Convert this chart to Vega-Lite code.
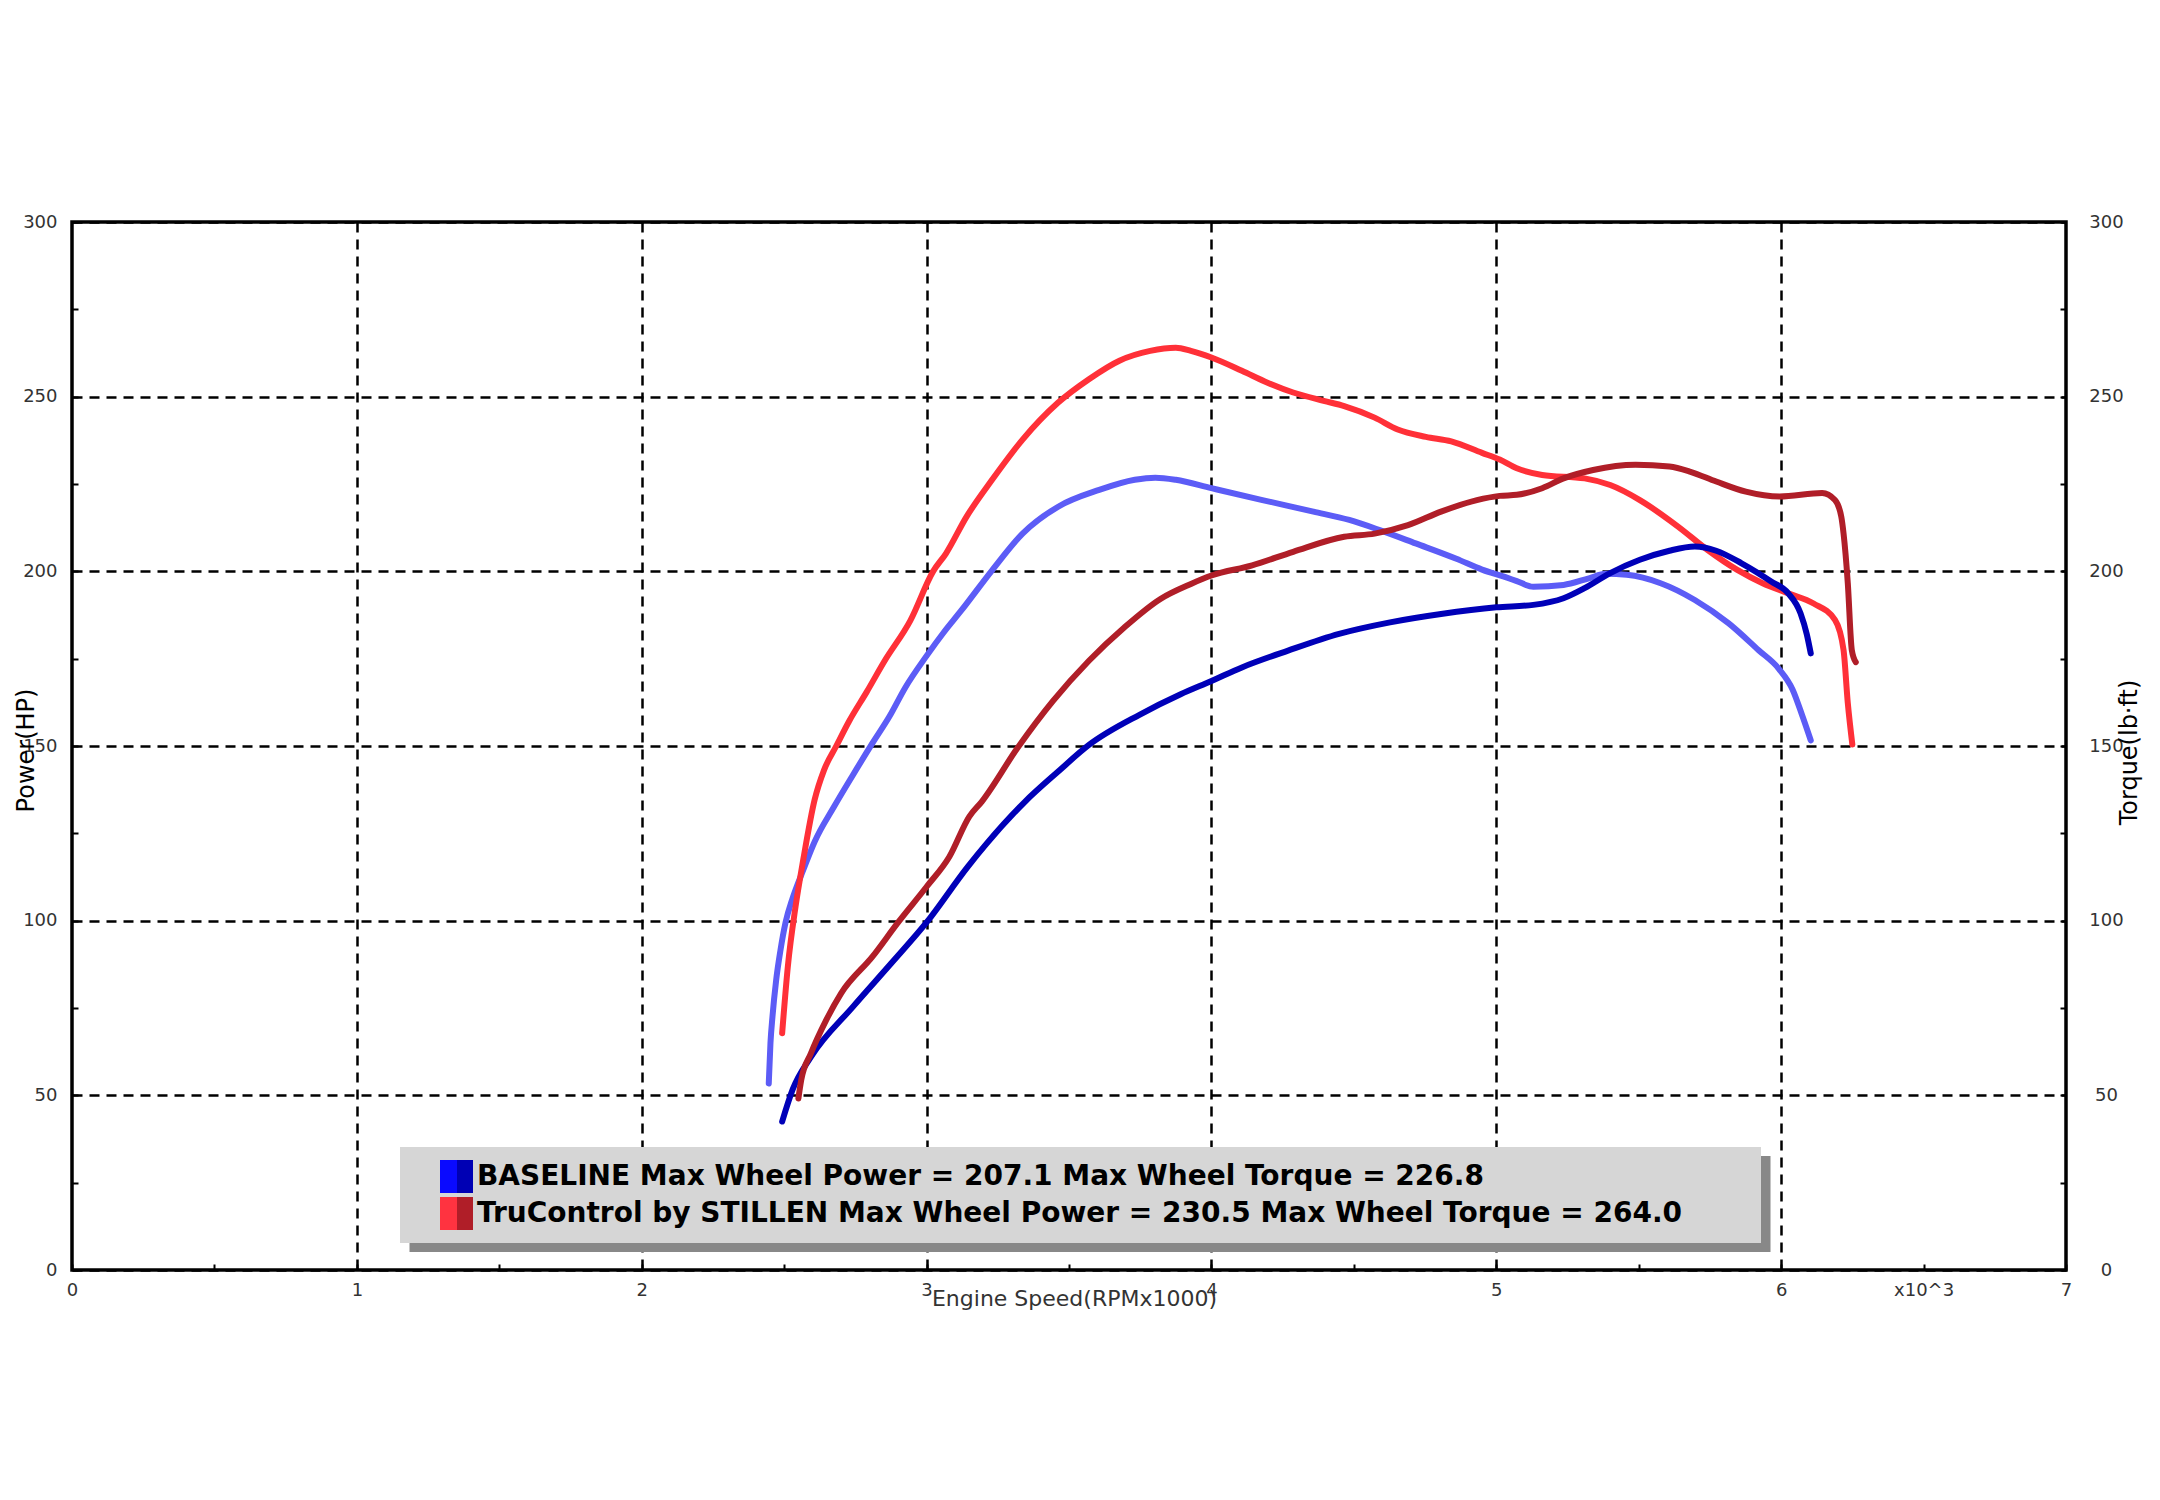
{
  "$schema": "https://vega.github.io/schema/vega-lite/v6.json",
  "description": "Dyno chart: wheel power and torque, BASELINE vs TruControl by STILLEN",
  "width": 1994,
  "height": 1048,
  "autosize": {"type": "none"},
  "padding": {"left": 72, "top": 222, "right": 94, "bottom": 230},
  "background": "white",
  "config": {
    "view": {"stroke": "black", "strokeWidth": 3.5},
    "axis": {"labelFont": "DejaVu Sans", "labelFontSize": 18, "labelColor": "#333", "titleFont": "DejaVu Sans", "titleFontWeight": "normal", "domain": false, "tickColor": "black", "tickWidth": 2, "tickSize": -6, "labelOverlap": false, "labelFlush": false, "labelBound": false, "gridColor": "black", "gridWidth": 2.5, "gridDash": [10, 7]}
  },
  "data": {
    "values": [
      {"rpm": 2.446, "v": 53.4, "run": "BASELINE", "series": "BASELINE Torque"},
      {"rpm": 2.452, "v": 65, "run": "BASELINE", "series": "BASELINE Torque"},
      {"rpm": 2.459, "v": 72.5, "run": "BASELINE", "series": "BASELINE Torque"},
      {"rpm": 2.472, "v": 83, "run": "BASELINE", "series": "BASELINE Torque"},
      {"rpm": 2.487, "v": 91.5, "run": "BASELINE", "series": "BASELINE Torque"},
      {"rpm": 2.505, "v": 99.5, "run": "BASELINE", "series": "BASELINE Torque"},
      {"rpm": 2.53, "v": 106.5, "run": "BASELINE", "series": "BASELINE Torque"},
      {"rpm": 2.567, "v": 114.5, "run": "BASELINE", "series": "BASELINE Torque"},
      {"rpm": 2.607, "v": 122.6, "run": "BASELINE", "series": "BASELINE Torque"},
      {"rpm": 2.675, "v": 132.6, "run": "BASELINE", "series": "BASELINE Torque"},
      {"rpm": 2.74, "v": 141.5, "run": "BASELINE", "series": "BASELINE Torque"},
      {"rpm": 2.81, "v": 150.8, "run": "BASELINE", "series": "BASELINE Torque"},
      {"rpm": 2.87, "v": 158.5, "run": "BASELINE", "series": "BASELINE Torque"},
      {"rpm": 2.925, "v": 166.7, "run": "BASELINE", "series": "BASELINE Torque"},
      {"rpm": 3.0, "v": 175.8, "run": "BASELINE", "series": "BASELINE Torque"},
      {"rpm": 3.06, "v": 182.5, "run": "BASELINE", "series": "BASELINE Torque"},
      {"rpm": 3.122, "v": 188.8, "run": "BASELINE", "series": "BASELINE Torque"},
      {"rpm": 3.23, "v": 200.3, "run": "BASELINE", "series": "BASELINE Torque"},
      {"rpm": 3.337, "v": 210.8, "run": "BASELINE", "series": "BASELINE Torque"},
      {"rpm": 3.462, "v": 218.5, "run": "BASELINE", "series": "BASELINE Torque"},
      {"rpm": 3.606, "v": 223.3, "run": "BASELINE", "series": "BASELINE Torque"},
      {"rpm": 3.731, "v": 226.2, "run": "BASELINE", "series": "BASELINE Torque"},
      {"rpm": 3.803, "v": 226.8, "run": "BASELINE", "series": "BASELINE Torque"},
      {"rpm": 3.875, "v": 226.2, "run": "BASELINE", "series": "BASELINE Torque"},
      {"rpm": 4.0, "v": 223.8, "run": "BASELINE", "series": "BASELINE Torque"},
      {"rpm": 4.179, "v": 220.4, "run": "BASELINE", "series": "BASELINE Torque"},
      {"rpm": 4.358, "v": 217.1, "run": "BASELINE", "series": "BASELINE Torque"},
      {"rpm": 4.484, "v": 214.7, "run": "BASELINE", "series": "BASELINE Torque"},
      {"rpm": 4.591, "v": 211.8, "run": "BASELINE", "series": "BASELINE Torque"},
      {"rpm": 4.717, "v": 208, "run": "BASELINE", "series": "BASELINE Torque"},
      {"rpm": 4.86, "v": 203.6, "run": "BASELINE", "series": "BASELINE Torque"},
      {"rpm": 4.95, "v": 200.5, "run": "BASELINE", "series": "BASELINE Torque"},
      {"rpm": 5.03, "v": 198.4, "run": "BASELINE", "series": "BASELINE Torque"},
      {"rpm": 5.072, "v": 197.2, "run": "BASELINE", "series": "BASELINE Torque"},
      {"rpm": 5.13, "v": 195.6, "run": "BASELINE", "series": "BASELINE Torque"},
      {"rpm": 5.236, "v": 196.1, "run": "BASELINE", "series": "BASELINE Torque"},
      {"rpm": 5.325, "v": 198, "run": "BASELINE", "series": "BASELINE Torque"},
      {"rpm": 5.384, "v": 199.3, "run": "BASELINE", "series": "BASELINE Torque"},
      {"rpm": 5.458, "v": 199, "run": "BASELINE", "series": "BASELINE Torque"},
      {"rpm": 5.577, "v": 196.6, "run": "BASELINE", "series": "BASELINE Torque"},
      {"rpm": 5.697, "v": 191.8, "run": "BASELINE", "series": "BASELINE Torque"},
      {"rpm": 5.816, "v": 185.1, "run": "BASELINE", "series": "BASELINE Torque"},
      {"rpm": 5.92, "v": 177.5, "run": "BASELINE", "series": "BASELINE Torque"},
      {"rpm": 5.992, "v": 172.1, "run": "BASELINE", "series": "BASELINE Torque"},
      {"rpm": 6.04, "v": 166.2, "run": "BASELINE", "series": "BASELINE Torque"},
      {"rpm": 6.075, "v": 158.5, "run": "BASELINE", "series": "BASELINE Torque"},
      {"rpm": 6.104, "v": 151.6, "run": "BASELINE", "series": "BASELINE Torque"},

      {"rpm": 2.493, "v": 42.5, "run": "BASELINE", "series": "BASELINE Power"},
      {"rpm": 2.53, "v": 51.7, "run": "BASELINE", "series": "BASELINE Power"},
      {"rpm": 2.594, "v": 61, "run": "BASELINE", "series": "BASELINE Power"},
      {"rpm": 2.742, "v": 75.4, "run": "BASELINE", "series": "BASELINE Power"},
      {"rpm": 2.876, "v": 87.8, "run": "BASELINE", "series": "BASELINE Power"},
      {"rpm": 3.0, "v": 99.5, "run": "BASELINE", "series": "BASELINE Power"},
      {"rpm": 3.145, "v": 115.5, "run": "BASELINE", "series": "BASELINE Power"},
      {"rpm": 3.21, "v": 122, "run": "BASELINE", "series": "BASELINE Power"},
      {"rpm": 3.346, "v": 134.1, "run": "BASELINE", "series": "BASELINE Power"},
      {"rpm": 3.462, "v": 142.7, "run": "BASELINE", "series": "BASELINE Power"},
      {"rpm": 3.57, "v": 150.3, "run": "BASELINE", "series": "BASELINE Power"},
      {"rpm": 3.749, "v": 159, "run": "BASELINE", "series": "BASELINE Power"},
      {"rpm": 3.892, "v": 164.8, "run": "BASELINE", "series": "BASELINE Power"},
      {"rpm": 4.0, "v": 168.6, "run": "BASELINE", "series": "BASELINE Power"},
      {"rpm": 4.107, "v": 172.5, "run": "BASELINE", "series": "BASELINE Power"},
      {"rpm": 4.269, "v": 177.3, "run": "BASELINE", "series": "BASELINE Power"},
      {"rpm": 4.448, "v": 182.1, "run": "BASELINE", "series": "BASELINE Power"},
      {"rpm": 4.627, "v": 185.4, "run": "BASELINE", "series": "BASELINE Power"},
      {"rpm": 4.806, "v": 187.8, "run": "BASELINE", "series": "BASELINE Power"},
      {"rpm": 5.0, "v": 189.7, "run": "BASELINE", "series": "BASELINE Power"},
      {"rpm": 5.13, "v": 190.4, "run": "BASELINE", "series": "BASELINE Power"},
      {"rpm": 5.236, "v": 192.3, "run": "BASELINE", "series": "BASELINE Power"},
      {"rpm": 5.31, "v": 195.2, "run": "BASELINE", "series": "BASELINE Power"},
      {"rpm": 5.4, "v": 199.5, "run": "BASELINE", "series": "BASELINE Power"},
      {"rpm": 5.504, "v": 203.3, "run": "BASELINE", "series": "BASELINE Power"},
      {"rpm": 5.608, "v": 205.9, "run": "BASELINE", "series": "BASELINE Power"},
      {"rpm": 5.697, "v": 207.1, "run": "BASELINE", "series": "BASELINE Power"},
      {"rpm": 5.772, "v": 205.9, "run": "BASELINE", "series": "BASELINE Power"},
      {"rpm": 5.861, "v": 202.3, "run": "BASELINE", "series": "BASELINE Power"},
      {"rpm": 5.965, "v": 197.1, "run": "BASELINE", "series": "BASELINE Power"},
      {"rpm": 6.025, "v": 193.7, "run": "BASELINE", "series": "BASELINE Power"},
      {"rpm": 6.068, "v": 188, "run": "BASELINE", "series": "BASELINE Power"},
      {"rpm": 6.09, "v": 182, "run": "BASELINE", "series": "BASELINE Power"},
      {"rpm": 6.104, "v": 176.5, "run": "BASELINE", "series": "BASELINE Power"},

      {"rpm": 2.55, "v": 49.1, "run": "TruControl", "series": "TruControl Power"},
      {"rpm": 2.56, "v": 54.4, "run": "TruControl", "series": "TruControl Power"},
      {"rpm": 2.594, "v": 62, "run": "TruControl", "series": "TruControl Power"},
      {"rpm": 2.648, "v": 71.6, "run": "TruControl", "series": "TruControl Power"},
      {"rpm": 2.7, "v": 79.2, "run": "TruControl", "series": "TruControl Power"},
      {"rpm": 2.81, "v": 89.7, "run": "TruControl", "series": "TruControl Power"},
      {"rpm": 2.9, "v": 99.5, "run": "TruControl", "series": "TruControl Power"},
      {"rpm": 3.0, "v": 109.7, "run": "TruControl", "series": "TruControl Power"},
      {"rpm": 3.08, "v": 118.3, "run": "TruControl", "series": "TruControl Power"},
      {"rpm": 3.15, "v": 129.8, "run": "TruControl", "series": "TruControl Power"},
      {"rpm": 3.194, "v": 134.1, "run": "TruControl", "series": "TruControl Power"},
      {"rpm": 3.319, "v": 149.4, "run": "TruControl", "series": "TruControl Power"},
      {"rpm": 3.444, "v": 162.9, "run": "TruControl", "series": "TruControl Power"},
      {"rpm": 3.57, "v": 174.4, "run": "TruControl", "series": "TruControl Power"},
      {"rpm": 3.695, "v": 184, "run": "TruControl", "series": "TruControl Power"},
      {"rpm": 3.821, "v": 192.1, "run": "TruControl", "series": "TruControl Power"},
      {"rpm": 3.928, "v": 196.4, "run": "TruControl", "series": "TruControl Power"},
      {"rpm": 4.0, "v": 198.8, "run": "TruControl", "series": "TruControl Power"},
      {"rpm": 4.143, "v": 201.7, "run": "TruControl", "series": "TruControl Power"},
      {"rpm": 4.287, "v": 205.6, "run": "TruControl", "series": "TruControl Power"},
      {"rpm": 4.466, "v": 209.9, "run": "TruControl", "series": "TruControl Power"},
      {"rpm": 4.573, "v": 210.8, "run": "TruControl", "series": "TruControl Power"},
      {"rpm": 4.69, "v": 213.2, "run": "TruControl", "series": "TruControl Power"},
      {"rpm": 4.806, "v": 217.1, "run": "TruControl", "series": "TruControl Power"},
      {"rpm": 4.932, "v": 220.4, "run": "TruControl", "series": "TruControl Power"},
      {"rpm": 5.012, "v": 221.6, "run": "TruControl", "series": "TruControl Power"},
      {"rpm": 5.072, "v": 221.9, "run": "TruControl", "series": "TruControl Power"},
      {"rpm": 5.161, "v": 223.8, "run": "TruControl", "series": "TruControl Power"},
      {"rpm": 5.236, "v": 226.6, "run": "TruControl", "series": "TruControl Power"},
      {"rpm": 5.34, "v": 229, "run": "TruControl", "series": "TruControl Power"},
      {"rpm": 5.489, "v": 230.5, "run": "TruControl", "series": "TruControl Power"},
      {"rpm": 5.608, "v": 230, "run": "TruControl", "series": "TruControl Power"},
      {"rpm": 5.682, "v": 228.5, "run": "TruControl", "series": "TruControl Power"},
      {"rpm": 5.772, "v": 225.7, "run": "TruControl", "series": "TruControl Power"},
      {"rpm": 5.876, "v": 222.8, "run": "TruControl", "series": "TruControl Power"},
      {"rpm": 5.995, "v": 221.4, "run": "TruControl", "series": "TruControl Power"},
      {"rpm": 6.144, "v": 222.4, "run": "TruControl", "series": "TruControl Power"},
      {"rpm": 6.189, "v": 220.4, "run": "TruControl", "series": "TruControl Power"},
      {"rpm": 6.211, "v": 215.7, "run": "TruControl", "series": "TruControl Power"},
      {"rpm": 6.219, "v": 210.9, "run": "TruControl", "series": "TruControl Power"},
      {"rpm": 6.234, "v": 196.6, "run": "TruControl", "series": "TruControl Power"},
      {"rpm": 6.248, "v": 177.5, "run": "TruControl", "series": "TruControl Power"},
      {"rpm": 6.262, "v": 174, "run": "TruControl", "series": "TruControl Power"},

      {"rpm": 2.493, "v": 67.8, "run": "TruControl", "series": "TruControl Torque"},
      {"rpm": 2.513, "v": 86.9, "run": "TruControl", "series": "TruControl Torque"},
      {"rpm": 2.54, "v": 104, "run": "TruControl", "series": "TruControl Torque"},
      {"rpm": 2.567, "v": 117.4, "run": "TruControl", "series": "TruControl Torque"},
      {"rpm": 2.607, "v": 134.6, "run": "TruControl", "series": "TruControl Torque"},
      {"rpm": 2.64, "v": 143.1, "run": "TruControl", "series": "TruControl Torque"},
      {"rpm": 2.683, "v": 150, "run": "TruControl", "series": "TruControl Torque"},
      {"rpm": 2.728, "v": 157.1, "run": "TruControl", "series": "TruControl Torque"},
      {"rpm": 2.79, "v": 165.5, "run": "TruControl", "series": "TruControl Torque"},
      {"rpm": 2.853, "v": 174.4, "run": "TruControl", "series": "TruControl Torque"},
      {"rpm": 2.943, "v": 185.9, "run": "TruControl", "series": "TruControl Torque"},
      {"rpm": 3.023, "v": 200, "run": "TruControl", "series": "TruControl Torque"},
      {"rpm": 3.068, "v": 205.1, "run": "TruControl", "series": "TruControl Torque"},
      {"rpm": 3.14, "v": 215.6, "run": "TruControl", "series": "TruControl Torque"},
      {"rpm": 3.23, "v": 226.2, "run": "TruControl", "series": "TruControl Torque"},
      {"rpm": 3.337, "v": 237.7, "run": "TruControl", "series": "TruControl Torque"},
      {"rpm": 3.462, "v": 248.3, "run": "TruControl", "series": "TruControl Torque"},
      {"rpm": 3.57, "v": 255, "run": "TruControl", "series": "TruControl Torque"},
      {"rpm": 3.677, "v": 260.3, "run": "TruControl", "series": "TruControl Torque"},
      {"rpm": 3.785, "v": 263.1, "run": "TruControl", "series": "TruControl Torque"},
      {"rpm": 3.875, "v": 264.0, "run": "TruControl", "series": "TruControl Torque"},
      {"rpm": 3.928, "v": 263.1, "run": "TruControl", "series": "TruControl Torque"},
      {"rpm": 4.0, "v": 261.2, "run": "TruControl", "series": "TruControl Torque"},
      {"rpm": 4.107, "v": 257.4, "run": "TruControl", "series": "TruControl Torque"},
      {"rpm": 4.197, "v": 254, "run": "TruControl", "series": "TruControl Torque"},
      {"rpm": 4.287, "v": 251.2, "run": "TruControl", "series": "TruControl Torque"},
      {"rpm": 4.394, "v": 248.8, "run": "TruControl", "series": "TruControl Torque"},
      {"rpm": 4.466, "v": 247.3, "run": "TruControl", "series": "TruControl Torque"},
      {"rpm": 4.573, "v": 244, "run": "TruControl", "series": "TruControl Torque"},
      {"rpm": 4.654, "v": 240.6, "run": "TruControl", "series": "TruControl Torque"},
      {"rpm": 4.753, "v": 238.5, "run": "TruControl", "series": "TruControl Torque"},
      {"rpm": 4.842, "v": 237.2, "run": "TruControl", "series": "TruControl Torque"},
      {"rpm": 4.95, "v": 233.9, "run": "TruControl", "series": "TruControl Torque"},
      {"rpm": 5.012, "v": 232, "run": "TruControl", "series": "TruControl Torque"},
      {"rpm": 5.072, "v": 229.5, "run": "TruControl", "series": "TruControl Torque"},
      {"rpm": 5.161, "v": 227.6, "run": "TruControl", "series": "TruControl Torque"},
      {"rpm": 5.31, "v": 226.6, "run": "TruControl", "series": "TruControl Torque"},
      {"rpm": 5.4, "v": 224.7, "run": "TruControl", "series": "TruControl Torque"},
      {"rpm": 5.504, "v": 220.4, "run": "TruControl", "series": "TruControl Torque"},
      {"rpm": 5.638, "v": 212.8, "run": "TruControl", "series": "TruControl Torque"},
      {"rpm": 5.742, "v": 206.1, "run": "TruControl", "series": "TruControl Torque"},
      {"rpm": 5.846, "v": 200.4, "run": "TruControl", "series": "TruControl Torque"},
      {"rpm": 5.935, "v": 196.6, "run": "TruControl", "series": "TruControl Torque"},
      {"rpm": 6.025, "v": 193.7, "run": "TruControl", "series": "TruControl Torque"},
      {"rpm": 6.114, "v": 190.8, "run": "TruControl", "series": "TruControl Torque"},
      {"rpm": 6.189, "v": 186.1, "run": "TruControl", "series": "TruControl Torque"},
      {"rpm": 6.219, "v": 177.5, "run": "TruControl", "series": "TruControl Torque"},
      {"rpm": 6.234, "v": 162.3, "run": "TruControl", "series": "TruControl Torque"},
      {"rpm": 6.25, "v": 150.4, "run": "TruControl", "series": "TruControl Torque"}
    ]
  },
  "encoding": {
    "x": {
      "field": "rpm", "type": "quantitative",
      "scale": {"domain": [0, 7], "nice": false, "zero": false},
      "axis": {
        "values": [0, 0.5, 1, 1.5, 2, 2.5, 3, 3.5, 4, 4.5, 5, 5.5, 6, 6.5, 7],
        "labelExpr": "datum.value === 6.5 ? 'x10^3' : (datum.value % 1 === 0 ? '' + datum.value : '')",
        "labelPadding": 17,
        "gridOpacity": {"condition": {"test": "datum.value % 1 !== 0 || datum.value === 0 || datum.value === 7", "value": 0}, "value": 1},
        "title": "Engine Speed(RPMx1000)",
        "titleFontSize": 22, "titleColor": "#333",
        "titleX": 1002, "titleY": 35, "titleAlign": "center", "titleBaseline": "alphabetic"
      }
    },
    "color": {
      "field": "series", "type": "nominal",
      "scale": {
        "domain": ["BASELINE Power", "BASELINE Torque", "TruControl Power", "TruControl Torque"],
        "range": ["#0000b8", "#5c5cf6", "#b01e28", "#ff3038"]
      },
      "legend": {
        "values": ["BASELINE Power", "TruControl Power"],
        "title": null, "orient": "none", "direction": "vertical",
        "legendX": 328, "legendY": 925, "zindex": 2,
        "fillColor": "#d6d6d6", "padding": 13, "symbolOffset": 27,
        "symbolType": "square", "symbolSize": 1089, "symbolStrokeWidth": 0,
        "rowPadding": 4, "labelOffset": 4, "labelLimit": 3000,
        "labelFont": "DejaVu Sans", "labelFontWeight": "bold", "labelFontSize": 28, "labelColor": "black",
        "labelExpr": "datum.value === 'BASELINE Power' ? 'BASELINE Max Wheel Power = 207.1 Max Wheel Torque = 226.8' : 'TruControl by STILLEN Max Wheel Power = 230.5 Max Wheel Torque = 264.0\u2800\u2800\u2800'",
        "encode": {
          "symbols": {
            "update": {
              "fill": [
                {"test": "datum.value === 'BASELINE Power'", "value": {"gradient": "linear", "x1": 0, "y1": 0, "x2": 1, "y2": 0, "stops": [{"offset": 0, "color": "#0a0aff"}, {"offset": 0.5, "color": "#0a0aff"}, {"offset": 0.5, "color": "#0000b4"}, {"offset": 1, "color": "#0000b4"}]}},
                {"value": {"gradient": "linear", "x1": 0, "y1": 0, "x2": 1, "y2": 0, "stops": [{"offset": 0, "color": "#ff3340"}, {"offset": 0.5, "color": "#ff3340"}, {"offset": 0.5, "color": "#b01e28"}, {"offset": 1, "color": "#b01e28"}]}}
              ],
              "strokeWidth": {"value": 0},
              "opacity": {"value": 1}
            }
          }
        }
      }
    },
    "opacity": {
      "field": "run", "type": "nominal",
      "scale": {"domain": ["BASELINE", "TruControl"], "range": [1, 1]},
      "legend": {
        "title": null, "orient": "none", "direction": "vertical",
        "legendX": 337.5, "legendY": 934, "zindex": 1,
        "fillColor": "#888888", "padding": 13, "symbolOffset": 27,
        "symbolType": "square", "symbolSize": 1089, "symbolStrokeWidth": 0, "symbolOpacity": 0,
        "rowPadding": 4, "labelOffset": 4, "labelLimit": 3000, "labelOpacity": 0,
        "labelFont": "DejaVu Sans", "labelFontWeight": "bold", "labelFontSize": 28,
        "labelExpr": "datum.value === 'BASELINE' ? 'BASELINE Max Wheel Power = 207.1 Max Wheel Torque = 226.8' : 'TruControl by STILLEN Max Wheel Power = 230.5 Max Wheel Torque = 264.0\u2800\u2800\u2800'"
      }
    }
  },
  "layer": [
    {
      "transform": [{"filter": {"field": "series", "oneOf": ["BASELINE Torque", "TruControl Torque"]}}],
      "mark": {"type": "line", "strokeWidth": 6, "strokeCap": "round", "strokeJoin": "round", "interpolate": "monotone"},
      "encoding": {
        "y": {
          "field": "v", "type": "quantitative",
          "scale": {"domain": [0, 300], "nice": false},
          "axis": {
            "orient": "right", "grid": false,
            "values": [0, 25, 50, 75, 100, 125, 150, 175, 200, 225, 250, 275, 300],
            "labelExpr": "datum.value % 50 === 0 ? datum.label : ''",
            "labelAlign": "center", "labelPadding": 46,
            "title": "Torque(lb·ft)", "titleFontSize": 24, "titleColor": "black",
            "titleAngle": 270, "titleX": 70, "titleY": 530, "titleAlign": "center", "titleBaseline": "alphabetic"
          }
        }
      }
    },
    {
      "transform": [{"filter": {"field": "series", "oneOf": ["BASELINE Power", "TruControl Power"]}}],
      "mark": {"type": "line", "strokeWidth": 6, "strokeCap": "round", "strokeJoin": "round", "interpolate": "monotone"},
      "encoding": {
        "y": {
          "field": "v", "type": "quantitative",
          "scale": {"domain": [0, 300], "nice": false},
          "axis": {
            "orient": "left", "grid": true,
            "values": [0, 25, 50, 75, 100, 125, 150, 175, 200, 225, 250, 275, 300],
            "labelExpr": "datum.value % 50 === 0 ? datum.label : ''",
            "labelPadding": 21,
            "gridOpacity": {"condition": {"test": "datum.value % 50 !== 0", "value": 0}, "value": 1},
            "title": "Power(HP)", "titleFontSize": 24, "titleColor": "black",
            "titleAngle": 270, "titleX": -39, "titleY": 528, "titleAlign": "center", "titleBaseline": "alphabetic"
          }
        }
      }
    }
  ],
  "resolve": {"axis": {"y": "independent"}}
}
